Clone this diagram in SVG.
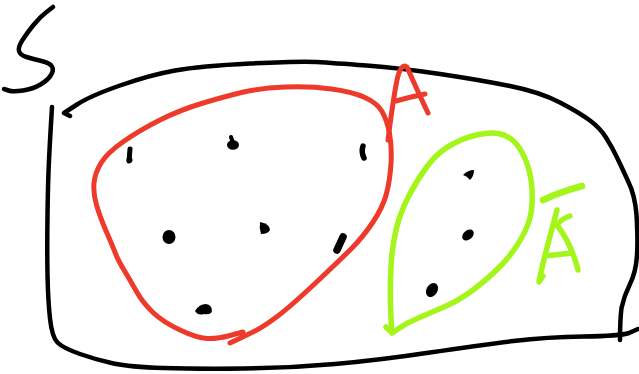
<svg xmlns="http://www.w3.org/2000/svg" width="639" height="374" viewBox="0 0 639 374">
<style>
.ink{fill:none;stroke-linecap:round;stroke-linejoin:round}
.blk{stroke:#000;stroke-width:4.5}
.red{stroke:#ee3a2a;stroke-width:5}
.grn{stroke:#a4f51a;stroke-width:5.5}
.dot{fill:#000}
.dotl{fill:none;stroke:#000;stroke-linecap:round;stroke-width:5}
</style>
<rect width="639" height="374" fill="#fff"/>
<g id="S-label">
<path class="ink blk" d="M 53,7 L 46.5,12 Q 40,17 33.5,25 Q 27,33 22.5,40 Q 18,47 19,51 Q 20,55 26.5,57 Q 33,59 41.5,61 Q 50,63 52,66.5 Q 54,70 51,75 Q 48,80 40.5,84.5 Q 33,89 23,90.5 Q 13,92 8.5,90.5 L 4,89"/>
</g>
<g id="S-box">
<path class="ink blk" d="M 70,116 L 64,113 L 77,104.5 Q 90,96 120,85.5 Q 150,75 175,70.5 Q 200,66 250,63.5 Q 300,61 316.5,62 Q 333,63 366.5,65.5 Q 400,68 440,74 Q 480,80 510,86 Q 540,92 560,102.5 Q 580,113 590,120.5 Q 600,128 606,137.5 Q 612,147 617.5,158.5 Q 623,170 628,181 Q 635,195 636.5,215 Q 638,240 637,255 Q 636,272 630,284 Q 624,296 621.5,308 Q 620,320 620,340"/>
<path class="ink blk" d="M 638,329 L 629,333 Q 620,336 583.5,336.5 Q 547,337 513.5,341 Q 480,345 430,352.5 Q 380,360 335,364 Q 290,368 243.5,368.5 Q 197,369 163.5,368 Q 130,367 113.5,363.5 Q 97,360 80,354 Q 63,348 57.5,342.5 Q 52,337 50,318.5 Q 48,300 47.5,275 Q 47,250 47.5,215 Q 48,180 49,160 Q 50,140 51,123.5 L 52,107"/>
</g>
<g id="A-set">
<path class="ink red" d="M 243,332 L 230,335.5 Q 217,339 207,338.5 Q 197,338 180,330 Q 163,322 153,312.5 Q 143,303 136.5,291.5 Q 130,280 124,270 Q 118,260 115.5,253.5 Q 113,247 106.5,232 Q 100,217 96.5,205 Q 93,193 94,183 Q 95,173 101,163 Q 107,153 123.5,141.5 Q 140,130 160,120 Q 180,110 201.5,103.5 Q 223,97 241.5,92.5 Q 260,88 285,87 Q 310,86 331.5,89 Q 353,92 365,97.5 Q 377,103 382,111.5 Q 387,120 389.5,133.5 Q 392,147 391,163.5 Q 390,180 386.5,193.5 Q 383,207 373,222 Q 363,237 351.5,248.5 Q 340,260 315,283.5 Q 290,307 276.5,317 Q 263,327 255,331 Q 247,335 238.5,339 L 230,343"/>
<path class="ink red" d="M 388,140 Q 393,100 397,80 Q 400,66 405,66"/>
<path class="ink red" d="M 407,67 Q 418,92 428,113"/>
<path class="ink red" d="M 396,101 Q 410,97 425,94"/>
<ellipse class="dot" cx="233" cy="145" rx="6" ry="4.8"/>
<path class="dotl" d="M 231,137 L 233,143" style="stroke-width:4"/>
<path class="dotl" d="M 130,149 L 129,161" style="stroke-width:5"/>
<circle class="dot" cx="129.5" cy="160" r="3"/>
<path class="dotl" d="M 363,146 Q 361,152 364,158" style="stroke-width:5.5"/>
<ellipse class="dot" cx="169" cy="237" rx="6.5" ry="7"/>
<path class="dot" d="M 260,222 Q 270,224 270,230 Q 268,234 261,234 Q 259,228 260,222 Z"/>
<path class="dotl" d="M 343,237 L 337,250" style="stroke-width:7.5"/>
<path class="dot" d="M 195,311 Q 199,304 206,304 Q 212,305 212,311 Q 211,315 204,314 Q 198,316 195,311 Z"/>
</g>
<g id="A-complement">
<path class="ink grn" d="M 392,333 L 399.5,328 Q 407,323 418.5,318 Q 430,313 445,306.5 Q 460,300 475,288.5 Q 490,277 501.5,265 Q 513,253 521.5,238 Q 530,223 531.5,210 Q 533,197 531.5,183.5 Q 530,170 525,158.5 Q 520,147 513.5,141 Q 507,135 498.5,133.5 Q 490,132 476.5,135 Q 463,138 450,145.5 Q 437,153 427,166.5 Q 417,180 408.5,196.5 Q 400,213 396,230 Q 392,247 391,267 Q 390,287 390.5,303.5 Q 391,320 391.5,326.5 Q 392,333 389,330 L 386,327"/>
<path class="ink grn" d="M 543,200 Q 560,192 582,186" style="stroke-width:6.5"/>
<path class="ink grn" d="M 557,210 C 552,230 543,260 539,282 L 543,276"/>
<path class="ink grn" d="M 570,216 Q 561,219 557,225 Q 572,245 578,270"/>
<path class="ink grn" d="M 545,256 L 572,253"/>
<path class="dot" d="M 463,175 Q 468,170 474,170 Q 474,176 470,180 Q 467,176 463,175 Z"/>
<ellipse class="dot" cx="468" cy="235" rx="6.5" ry="4.5" transform="rotate(-40 468 235)"/>
<ellipse class="dot" cx="432" cy="290" rx="5.5" ry="7.5" transform="rotate(30 432 290)"/>
</g>
<g id="connectors"/>
</svg>
